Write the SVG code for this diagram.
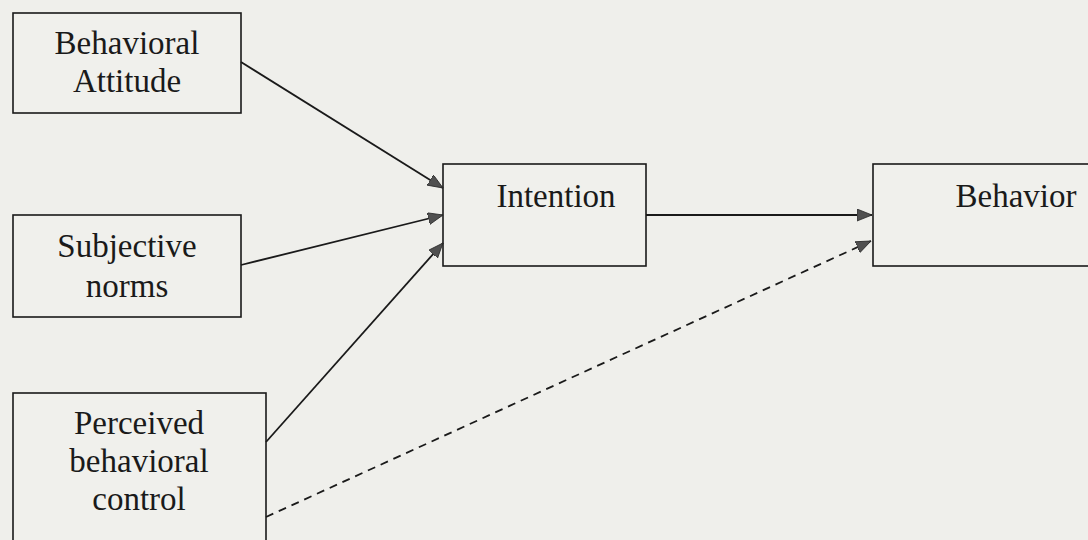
<svg xmlns="http://www.w3.org/2000/svg" width="1088" height="540" viewBox="0 0 1088 540">
  <style>
    .box { fill: #f0f0ec; stroke: #1a1a1a; stroke-width: 1.6; }
    .label { font-family: 'Liberation Serif', 'Times New Roman', Times, serif; font-size: 33px; fill: #1a1a1a; text-anchor: middle; }
    .link { stroke: #1a1a1a; stroke-width: 1.8; fill: none; }
    .dashed { stroke-dasharray: 8 6; }
  </style>
  <defs>
    <!-- filled grey arrowhead, tip placed on the box edge -->
    <marker id="arrow" markerUnits="userSpaceOnUse" markerWidth="18" markerHeight="14" refX="15" refY="6" orient="auto">
      <path d="M0,0 L15,6 L0,12 Z" fill="#505050" stroke="#2a2a2a" stroke-width="0.8"/>
    </marker>
  </defs>
  <rect width="1088" height="540" fill="#efefeb"/>

  <g id="attitude">
    <rect class="box" x="13" y="13" width="228" height="100"/>
    <text class="label" x="127" y="54">Behavioral</text>
    <text class="label" x="127" y="92">Attitude</text>
  </g>

  <g id="norms">
    <rect class="box" x="13" y="215" width="228" height="102"/>
    <text class="label" x="127" y="257">Subjective</text>
    <text class="label" x="127" y="297">norms</text>
  </g>

  <g id="control">
    <rect class="box" x="13" y="393" width="253" height="160"/>
    <text class="label" x="139" y="434">Perceived</text>
    <text class="label" x="139" y="472">behavioral</text>
    <text class="label" x="139" y="510">control</text>
  </g>

  <g id="intention">
    <rect class="box" x="443" y="164" width="203" height="102"/>
    <text class="label" x="556" y="207">Intention</text>
  </g>

  <g id="behavior">
    <rect class="box" x="873" y="164" width="230" height="102"/>
    <text class="label" x="1016" y="207">Behavior</text>
  </g>

  <g id="connectors">
    <line class="link" x1="241" y1="62" x2="443" y2="188" marker-end="url(#arrow)"/>
    <line class="link" x1="241" y1="265" x2="443" y2="215" marker-end="url(#arrow)"/>
    <line class="link" x1="266" y1="442" x2="443" y2="243" marker-end="url(#arrow)"/>
    <line class="link" x1="646" y1="215" x2="872" y2="215" marker-end="url(#arrow)"/>
    <line class="link dashed" x1="266" y1="517" x2="871" y2="241" marker-end="url(#arrow)"/>
  </g>
</svg>
